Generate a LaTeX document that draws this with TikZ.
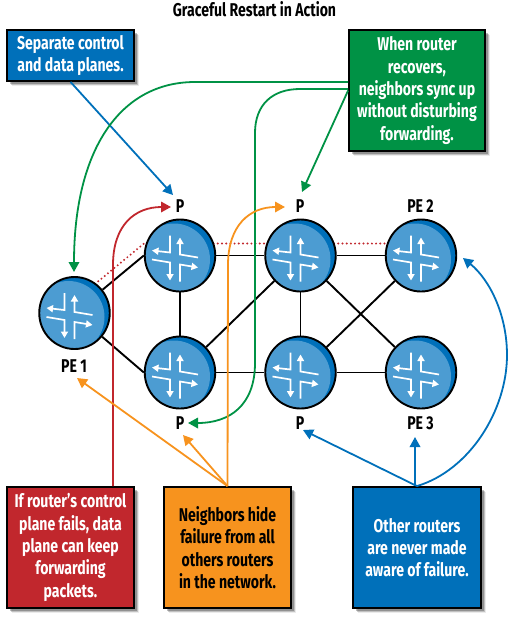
\documentclass[tikz,border=0pt]{standalone}
\usepackage{fontspec}
\setmainfont[FakeStretch=0.76]{Fira Sans}
\usetikzlibrary{arrows.meta,shadows,shapes.geometric,backgrounds}
\definecolor{cblue}{RGB}{0,112,186}
\definecolor{cgreen}{RGB}{0,146,69}
\definecolor{cred}{RGB}{193,39,45}
\definecolor{corange}{RGB}{247,147,30}
\definecolor{clight}{RGB}{76,156,210}
\tikzset{
  x=1pt,y=-1pt,
  callout/.style={draw=black,line width=1.8pt,inner sep=0pt,align=center,font=\bfseries\fontsize{18.5}{22.3}\selectfont,text=white,
    general shadow={shadow xshift=5pt,shadow yshift=-5pt,fill=black,opacity=.08},
    general shadow={shadow xshift=4pt,shadow yshift=-4pt,fill=black,opacity=.18},
    general shadow={shadow xshift=3pt,shadow yshift=-3pt,fill=black,opacity=.25}},
  lbl/.style={font=\bfseries\fontsize{18.5}{18}\selectfont,inner sep=0pt},
  link/.style={line width=1.9pt,black},
  dots/.style={line width=2.2pt,cred,line cap=round,dash pattern=on 0pt off 4.2pt},
  arr/.style={line width=1.8pt,-{Triangle[length=10pt,width=10.5pt]}},
  router/.style={ellipse,draw=black,line width=1.9pt,fill=cblue,inner sep=0pt,minimum width=70.5pt,minimum height=72pt,
    path picture={
      \begin{scope}[shift={(path picture bounding box.center)}]
        \fill[clight] (-6,4) ellipse [x radius=36,y radius=36];
        \begin{scope}[white,line width=1.7pt,-{Triangle[length=6.5pt,width=7pt]}]
          \draw (18,2) -- (0,-1) -- (0,-18);
          \draw (-10,-20) -- (-10,-3) -- (-28,-5);
          \draw (0,26) -- (0,9) -- (18,12);
          \draw (-28,4) -- (-10,7) -- (-10,25);
        \end{scope}
      \end{scope}
    }},
}
\begin{document}
\begin{tikzpicture}
\useasboundingbox (0,0) rectangle (509,622);
% routers
\node[router] (pe1) at (74.5,313) {};
\node[router] (ptl) at (180,255.5) {};
\node[router] (pbl) at (180,372.5) {};
\node[router] (ptm) at (300.5,255.5) {};
\node[router] (pbm) at (300.5,372.5) {};
\node[router] (pe2) at (421,255.5) {};
\node[router] (pe3) at (421,372.5) {};
% labels
\node[lbl] (title) at (254.5,9.5) {Graceful Restart in Action};
\node[lbl] (lptl) at (180,206.5) {P};
\node[lbl] (lptm) at (300,206.5) {P};
\node[lbl] (lpe2) at (420.5,206.5) {PE 2};
\node[lbl] (lpe1) at (74,366) {PE 1};
\node[lbl] (lpbl) at (180,423) {P};
\node[lbl] (lpbm) at (300,423) {P};
\node[lbl] (lpe3) at (420.5,423) {PE 3};
% boxes
\node[callout,fill=cblue,minimum width=127pt,minimum height=51pt] (bsep) at (70.5,55.5) {Separate control\\and data planes.};
\node[callout,fill=cgreen,minimum width=136pt,minimum height=121pt] (bgrn) at (417,90.5) {When router\\recovers,\\neighbors sync up\\without disturbing\\forwarding.};
\node[callout,fill=cred,minimum width=127pt,minimum height=121pt] (bred) at (70.5,547.5) {If router’s control\\plane fails, data\\plane can keep\\forwarding\\packets.};
\node[callout,fill=corange,text=black,minimum width=127pt,minimum height=121pt] (borg) at (227.5,547.5) {Neighbors hide\\failure from all\\others routers\\in the network.};
\node[callout,fill=cblue,minimum width=128pt,minimum height=121pt] (both) at (417,547.5) {Other routers\\are never made\\aware of failure.};
% links
\begin{scope}[on background layer]
  \draw[link] (pe1) -- (ptl.west);
  \draw[link] (pe1) -- (pbl.west);
  \draw[link] (ptl) -- (pbl);
  \draw[link] (ptl) -- (ptm);
  \draw[link] (pbl) -- (pbm);
  \draw[link] (pbl) -- (ptm);
  \draw[link] (ptm) -- (pbm);
  \draw[link] (ptm) -- (pe2);
  \draw[link] (ptm) -- (pe3);
  \draw[link] (pbm) -- (pe2);
  \draw[link] (pbm) -- (pe3);
  \draw[dots] ([shift={(20.5pt,29pt)}]pe1.center) -- ([shift={(-36pt,12pt)}]ptl.center);
  \draw[dots] ([yshift=12pt]ptl.center) -- ([yshift=12pt]ptm.center);
  \draw[dots] ([yshift=12pt]ptm.center) -- ([yshift=12pt]pe2.center);
\end{scope}
% tips
\coordinate (tpe1g) at (74,272);
\coordinate (tbl) at (188,423);
\coordinate (ttm) at (302,192);
\coordinate (ttl) at (173,195);
\coordinate (tred) at (171,207);
\coordinate (torg) at (285,207);
\coordinate (tpe1o) at (77,378);
\coordinate (tblo) at (183,435);
\coordinate (tbmb) at (303,430);
\coordinate (tpe3) at (415,437);
\coordinate (tpe2) at (463,258);
% callout arrows
\draw[arr,cblue] (bsep.south) -- (ttl);
\draw[arr,cgreen] ([yshift=8.5pt]bgrn.west) -- (195,82) .. controls (120,82) and (74,150) .. (tpe1g);
\draw[arr,cgreen] ([yshift=1.5pt]bgrn.west) -- (300,89) .. controls (272,89) and (255,105) .. (255,133) -- (255,363) .. controls (255,405) and (230,423) .. (tbl);
\draw[arr,cgreen] (bgrn.west) -- (ttm);
\draw[arr,cred] ([xshift=42.5pt]bred.north) -- (113,265) .. controls (113,225) and (135,207) .. (tred);
\draw[arr,corange] (borg.north) -- (228,265) .. controls (228,225) and (250,207) .. (torg);
\draw[arr,corange] (borg.north) -- (tpe1o);
\draw[arr,corange] (borg.north) -- (tblo);
\draw[arr,cblue] (both.north) -- (tbmb);
\draw[arr,cblue] ([xshift=-2pt]both.north) -- (tpe3);
\draw[arr,cblue] (both.north) .. controls (470,470) and (507,410) .. (507,355) .. controls (507,315) and (490,280) .. (tpe2);
\end{tikzpicture}
\end{document}
